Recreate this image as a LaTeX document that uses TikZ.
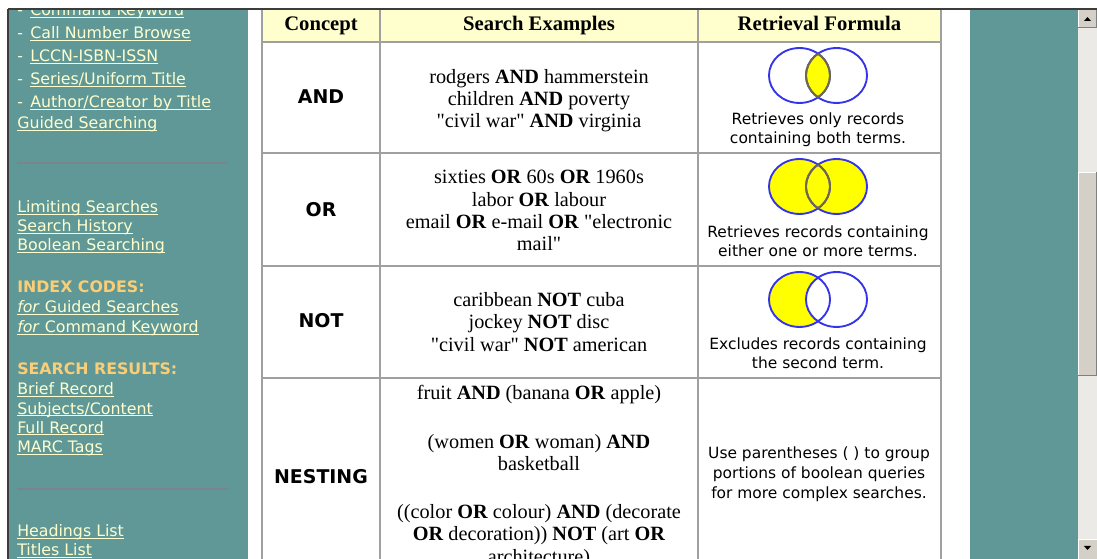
\documentclass[tikz,border=0pt]{standalone}
\usepackage{fontspec}
\setmainfont{Liberation Serif}[Ligatures=TeXOff]
\newfontfamily\dvs{DejaVu Sans}[Ligatures=TeXOff]

\definecolor{sidebg}{RGB}{96,152,152}
\definecolor{linkc}{RGB}{255,255,206}
\definecolor{headc}{RGB}{250,206,118}
\definecolor{rulec}{RGB}{122,132,140}
\definecolor{hdbg}{RGB}{255,255,206}
\definecolor{gridc}{RGB}{160,160,160}
\definecolor{framec}{RGB}{60,60,60}
\definecolor{vennb}{RGB}{52,52,235}
\definecolor{venny}{RGB}{255,255,0}
\definecolor{vennin}{RGB}{112,104,70}
\definecolor{barbg}{RGB}{236,234,230}
\definecolor{barbtn}{RGB}{212,208,200}
\definecolor{bardark}{RGB}{128,128,128}

\newcommand\lnk[1]{\setbox0\hbox{#1}\rlap{\rule[-1.6pt]{\wd0}{0.75pt}}\box0}

\tikzset{
  side/.style={anchor=base west, inner sep=0, text=linkc, font=\dvs\fontsize{11.85pt}{14pt}\selectfont},
  sidehead/.style={side, text=headc, font=\dvs\fontsize{11.85pt}{14pt}\bfseries\selectfont},
  hd/.style={anchor=base, inner sep=0, font=\fontsize{15.5pt}{17pt}\bfseries\selectfont},
  cpt/.style={inner sep=0, font=\dvs\fontsize{14.2pt}{16pt}\bfseries\selectfont},
  ex/.style={inner sep=0, align=center, font=\fontsize{15.2pt}{16.6pt}\selectfont},
  fm/.style={inner sep=0, align=center, font=\dvs\fontsize{11.6pt}{14.3pt}\selectfont},
  grid/.style={gridc, line width=1.5pt},
  venn/.style={vennb, line width=1.4pt},
  vennarc/.style={vennin, line width=1.4pt}
}

\begin{document}
\begin{tikzpicture}[x=0.75pt,y=-0.75pt]
\useasboundingbox (0,0) rectangle (1097,559);
\clip (0,0) rectangle (1097,559);
\fill[white] (0,0) rectangle (1097,559);

\fill[sidebg] (8,9) rectangle (248,559);
\fill[sidebg] (970,9) rectangle (1078,559);

\begin{scope}
\clip (8,9) rectangle (248,559);
\node[side] (cmdkw) at (17,15.5) {-\hspace{5.5pt}\lnk{Command Keyword}};
\node[side] (callno) at (17,38.5) {-\hspace{5.5pt}\lnk{Call Number Browse}};
\node[side] (lccn) at (17,62) {-\hspace{5.5pt}\lnk{LCCN-ISBN-ISSN}};
\node[side] (series) at (17,85) {-\hspace{5.5pt}\lnk{Series/Uniform Title}};
\node[side] (author) at (17,107.5) {-\hspace{5.5pt}\lnk{Author/Creator by Title}};
\node[side] (guided) at (17,128.5) {\lnk{Guided Searching}};

\draw[rulec,line width=1.5pt] (17,163.3) -- (228,163.3);

\node[side] (limit) at (17,212.7) {\lnk{Limiting Searches}};
\node[side] (history) at (17,231.7) {\lnk{Search History}};
\node[side] (boolean) at (17,251) {\lnk{Boolean Searching}};

\node[sidehead] (idx) at (17,293) {INDEX CODES:};
\node[side] (idxguided) at (17,312.7) {\lnk{\textit{for} Guided Searches}};
\node[side] (idxcmd) at (17,332.7) {\lnk{\textit{for} Command Keyword}};

\node[sidehead] (results) at (17,375) {SEARCH RESULTS:};
\node[side] (brief) at (17,395) {\lnk{Brief Record}};
\node[side] (subjects) at (17,414.3) {\lnk{Subjects/Content}};
\node[side] (full) at (17,433.3) {\lnk{Full Record}};
\node[side] (marc) at (17,452.7) {\lnk{MARC Tags}};

\draw[rulec,line width=1.5pt] (17,489.3) -- (228,489.3);

\node[side] (headings) at (17,536.7) {\lnk{Headings List}};
\node[side] (titles) at (17,556) {\lnk{Titles List}};
\end{scope}

\fill[hdbg] (262,9) rectangle (940.5,42);

\draw[grid] (262,9) -- (262,559);
\draw[grid] (380,9) -- (380,559);
\draw[grid] (698,9) -- (698,559);
\draw[grid] (940.5,9) -- (940.5,559);
\draw[grid] (262,42) -- (940.5,42);
\draw[grid] (262,153) -- (940.5,153);
\draw[grid] (262,266) -- (940.5,266);
\draw[grid] (262,378) -- (940.5,378);

\node[hd] (hconcept) at (321,31) {Concept};
\node[hd] (hexamples) at (539,31) {Search Examples};
\node[hd] (hformula) at (819.5,31) {Retrieval Formula};

\node[cpt] (cand) at (321,96.5) {AND};
\node[cpt] (cor) at (321,210) {OR};
\node[cpt] (cnot) at (321,320.5) {NOT};
\node[cpt] (cnest) at (321,477) {NESTING};

\node[ex] (exand) at (539,100.5) {rodgers \textbf{AND} hammerstein\\children \textbf{AND} poverty\\"civil war" \textbf{AND} virginia};
\node[ex] (exor) at (539,210.5) {sixties \textbf{OR} 60s \textbf{OR} 1960s\\labor \textbf{OR} labour\\email \textbf{OR} e-mail \textbf{OR} "electronic\\mail"};
\node[ex] (exnot) at (539,322) {caribbean \textbf{NOT} cuba\\jockey \textbf{NOT} disc\\"civil war" \textbf{NOT} american};
\node[ex] (exnesta) at (539,395) {fruit \textbf{AND} (banana \textbf{OR} apple)};
\node[ex] (exnestb) at (539,453) {(women \textbf{OR} woman) \textbf{AND}\\basketball};
\node[ex] (exnestc) at (539,536) {((color \textbf{OR} colour) \textbf{AND} (decorate\\\textbf{OR} decoration)) \textbf{NOT} (art \textbf{OR}\\architecture)};

\coordinate (andl) at (799.5,75.5);
\coordinate (andr) at (836.5,75.5);
\begin{scope}
\clip (andl) ellipse (22.9pt and 20.6pt);
\fill[venny] (andr) ellipse (22.9pt and 20.6pt);
\end{scope}
\draw[venn] (andl) ellipse (22.9pt and 20.6pt);
\draw[venn] (andr) ellipse (22.9pt and 20.6pt);
\begin{scope}
\clip (andl) ellipse (22.9pt and 20.6pt);
\draw[vennarc] (andr) ellipse (22.9pt and 20.6pt);
\end{scope}
\begin{scope}
\clip (andr) ellipse (22.9pt and 20.6pt);
\draw[vennarc] (andl) ellipse (22.9pt and 20.6pt);
\end{scope}
\node[fm] (fmand) at (818,130) {Retrieves only records\\containing both terms.};

\coordinate (orl) at (799.5,186.5);
\coordinate (orr) at (836.5,186.5);
\fill[venny] (orl) ellipse (22.9pt and 20.6pt);
\fill[venny] (orr) ellipse (22.9pt and 20.6pt);
\draw[venn] (orl) ellipse (22.9pt and 20.6pt);
\draw[venn] (orr) ellipse (22.9pt and 20.6pt);
\begin{scope}
\clip (orl) ellipse (22.9pt and 20.6pt);
\draw[vennarc] (orr) ellipse (22.9pt and 20.6pt);
\end{scope}
\begin{scope}
\clip (orr) ellipse (22.9pt and 20.6pt);
\draw[vennarc] (orl) ellipse (22.9pt and 20.6pt);
\end{scope}
\node[fm] (fmor) at (818,241.5) {Retrieves records containing\\either one or more terms.};

\coordinate (notl) at (799.5,299.5);
\coordinate (notr) at (836.5,299.5);
\fill[venny] (notl) ellipse (22.9pt and 20.6pt);
\fill[white] (notr) ellipse (22.9pt and 20.6pt);
\draw[venn] (notl) ellipse (22.9pt and 20.6pt);
\draw[venn] (notr) ellipse (22.9pt and 20.6pt);
\node[fm] (fmnot) at (818,353) {Excludes records containing\\the second term.};

\node[fm,font=\dvs\fontsize{11.6pt}{15pt}\selectfont] (fmnest) at (819,474) {Use parentheses ( ) to group\\portions of boolean queries\\for more complex searches.};

\fill[barbg] (1078,9) rectangle (1097,559);
\fill[barbtn] (1078,9) rectangle (1097,28);
\draw[white] (1078.5,28) -- (1078.5,9.5) -- (1097,9.5);
\draw[bardark] (1078,27.5) -- (1096.5,27.5) -- (1096.5,9);
\fill[black] (1084,21) -- (1091,21) -- (1087.5,17) -- cycle;
\fill[barbtn] (1078,172) rectangle (1097,376);
\draw[white] (1078.5,376) -- (1078.5,172.5) -- (1097,172.5);
\draw[bardark] (1078,375.5) -- (1096.5,375.5) -- (1096.5,172);
\fill[barbtn] (1078,539) rectangle (1097,559);
\draw[white] (1078.5,559) -- (1078.5,539.5) -- (1097,539.5);
\fill[black] (1084,546) -- (1091,546) -- (1087.5,550) -- cycle;

\draw[framec,line width=1.2pt] (8,9) -- (1097,9);
\draw[framec,line width=1.2pt] (8,9) -- (8,559);
\end{tikzpicture}
\end{document}
